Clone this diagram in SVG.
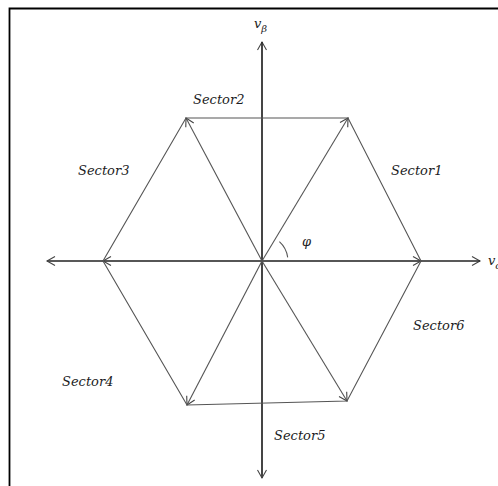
<svg xmlns="http://www.w3.org/2000/svg" width="498" height="486" viewBox="0 0 498 486">
<style>
.lbl{font-family:"DejaVu Serif","Liberation Serif",serif;font-style:italic;font-size:13px;fill:#1c1c24}
.ax{stroke:#222;stroke-width:1.2;fill:none}
.vec{stroke:#555;stroke-width:1.1;fill:none}
</style>
<defs>
<marker id="ah" markerUnits="userSpaceOnUse" markerWidth="12" markerHeight="12" refX="9" refY="5" orient="auto" viewBox="0 0 12 10">
<path d="M1,0.5 L9,5 L1,9.5" fill="none" stroke="#444" stroke-width="1.1"/>
</marker>
</defs>
<rect width="498" height="486" fill="#fff"/>
<path d="M9.5,487 V8.5 H499" fill="none" stroke="#000" stroke-width="1.8"/>
<g id="connectors">
<line class="ax" x1="262" y1="478" x2="262" y2="42" marker-end="url(#ah)"/>
<line class="ax" x1="262" y1="42" x2="262" y2="478" marker-end="url(#ah)"/>
<line class="ax" x1="47" y1="261" x2="480" y2="261" marker-end="url(#ah)"/>
<line class="ax" x1="480" y1="261" x2="47" y2="261" marker-end="url(#ah)"/>
<line class="vec" x1="262" y1="261" x2="348" y2="118" marker-end="url(#ah)"/>
<line class="vec" x1="262" y1="261" x2="186" y2="118" marker-end="url(#ah)"/>
<line class="vec" x1="262" y1="261" x2="103" y2="261" marker-end="url(#ah)"/>
<line class="vec" x1="262" y1="261" x2="187" y2="405" marker-end="url(#ah)"/>
<line class="vec" x1="262" y1="261" x2="347" y2="401" marker-end="url(#ah)"/>
<line class="vec" x1="262" y1="261" x2="421" y2="261" marker-end="url(#ah)"/>
<polygon class="vec" points="348,118 186,118 103,261 187,405 347,401 421,261"/>
<path class="vec" d="M279.4,241.7 A26 26 0 0 1 287.7,257.4"/>
</g>
<g id="labels">
<text class="lbl" x="254" y="28" font-size="14">v<tspan font-size="10" dy="4">β</tspan></text>
<text class="lbl" x="488" y="265" font-size="14">v<tspan font-size="10" dy="4">α</tspan></text>
<text class="lbl" x="302" y="246">φ</text>
<text class="lbl" x="193" y="104">Sector2</text>
<text class="lbl" x="78" y="175">Sector3</text>
<text class="lbl" x="391" y="175">Sector1</text>
<text class="lbl" x="413" y="330">Sector6</text>
<text class="lbl" x="62" y="386">Sector4</text>
<text class="lbl" x="274" y="440">Sector5</text>
</g>
</svg>
